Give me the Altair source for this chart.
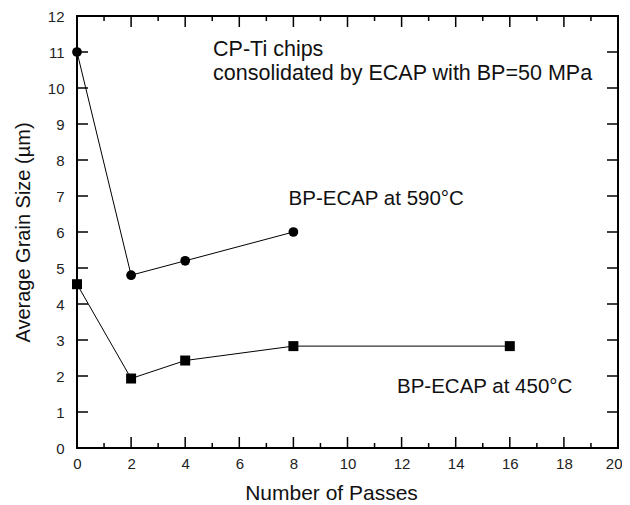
import altair as alt
import pandas as pd

# Data
passes_590 = [0, 2, 4, 8]
grain_590 = [11.0, 4.8, 5.2, 6.0]
passes_450 = [0, 2, 4, 8, 16]
grain_450 = [4.55, 1.93, 2.43, 2.83, 2.83]

x_major = [0, 2, 4, 6, 8, 10, 12, 14, 16, 18, 20]
x_minor = [1, 3, 5, 7, 9, 11, 13, 15, 17, 19]
y_major = [0, 1, 2, 3, 4, 5, 6, 7, 8, 9, 10, 11, 12]

head_text = ["CP-Ti chips", "consolidated by ECAP with BP=50 MPa"]
head_x = [5.03, 5.03]
head_y = [10.89, 10.22]
label_text = ["BP-ECAP at 590°C", "BP-ECAP at 450°C"]
label_x = [7.82, 11.83]
label_y = [6.75, 1.53]

W, H = 541, 432

df590 = pd.DataFrame({"x": passes_590, "y": grain_590})
df450 = pd.DataFrame({"x": passes_450, "y": grain_450})
dfxM = pd.DataFrame({"x": x_major})
dfxm = pd.DataFrame({"x": x_minor})
dfy = pd.DataFrame({"y": y_major})
dfh = pd.DataFrame({"t": head_text, "x": head_x, "y": head_y})
dfl = pd.DataFrame({"t": label_text, "x": label_x, "y": label_y})

xs = alt.Scale(domain=[0, 20], nice=False, zero=False)
ys = alt.Scale(domain=[0, 12], nice=False, zero=False)

xaxis = alt.Axis(values=x_major, ticks=False, domain=False, grid=False,
                 labelFlush=False, labelFontSize=15, labelPadding=8, labelColor="#222",
                 labelFont="Liberation Sans",
                 labelAlign={"expr": "datum.value == 20 ? 'right' : 'center'"},
                 labelOffset={"expr": "datum.value == 20 ? 4 : 0"},
                 titleFont="Liberation Sans", titleFontSize=21,
                 titleFontWeight="normal", titlePadding=11, titleColor="#111",
                 titleX=254)
yaxis = alt.Axis(values=y_major, ticks=False, domain=False, grid=False,
                 labelFlush=False, labelFontSize=15, labelPadding=13, labelColor="#222",
                 labelFont="Liberation Sans",
                 titleFont="Liberation Sans", titleFontSize=20,
                 titleFontWeight="normal", titlePadding=14, titleColor="#111")

X = alt.X("x:Q", scale=xs, axis=xaxis, title="Number of Passes")
Y = alt.Y("y:Q", scale=ys, axis=yaxis, title="Average Grain Size (µm)")

line590 = alt.Chart(df590).mark_line(color="black", strokeWidth=1).encode(x=X, y=Y)
pts590 = alt.Chart(df590).mark_point(shape="circle", filled=True, color="black",
                                     size=95, opacity=1).encode(x=X, y=Y)
line450 = alt.Chart(df450).mark_line(color="black", strokeWidth=1).encode(x=X, y=Y)
pts450 = alt.Chart(df450).mark_point(shape="square", filled=True, color="black",
                                     size=100, opacity=1).encode(x=X, y=Y)

tick_style = dict(color="black", strokeWidth=1.5)
bot_major = alt.Chart(dfxM).mark_rule(**tick_style).encode(x=X, y=alt.value(H), y2=alt.value(H - 11))
bot_minor = alt.Chart(dfxm).mark_rule(**tick_style).encode(x=X, y=alt.value(H), y2=alt.value(H - 5))
top_major = alt.Chart(dfxM).mark_rule(**tick_style).encode(x=X, y=alt.value(0), y2=alt.value(11))
top_minor = alt.Chart(dfxm).mark_rule(**tick_style).encode(x=X, y=alt.value(0), y2=alt.value(5))
left_t = alt.Chart(dfy).mark_rule(**tick_style).encode(y=Y, x=alt.value(0), x2=alt.value(11))
right_t = alt.Chart(dfy).mark_rule(**tick_style).encode(y=Y, x=alt.value(W), x2=alt.value(W - 11))

heads = alt.Chart(dfh).mark_text(align="left", baseline="alphabetic", fontSize=21.5,
                                 font="Liberation Sans", color="#111").encode(
    x=X, y=Y, text="t:N")
labels = alt.Chart(dfl).mark_text(align="left", baseline="alphabetic", fontSize=20.5,
                                  font="Liberation Sans", color="#111").encode(
    x=X, y=Y, text="t:N")

chart = alt.layer(
    line590, line450, pts590, pts450,
    bot_major, bot_minor, top_major, top_minor, left_t, right_t, heads, labels
).properties(
    width=W, height=H,
    autosize=alt.AutoSizeParams(type="none"),
    padding={"left": 69, "top": 8, "right": 4, "bottom": 57},
    background="white",
).configure_view(stroke="black", strokeWidth=2)

chart.save("out.html", embed_options={"renderer": "svg", "actions": False})
